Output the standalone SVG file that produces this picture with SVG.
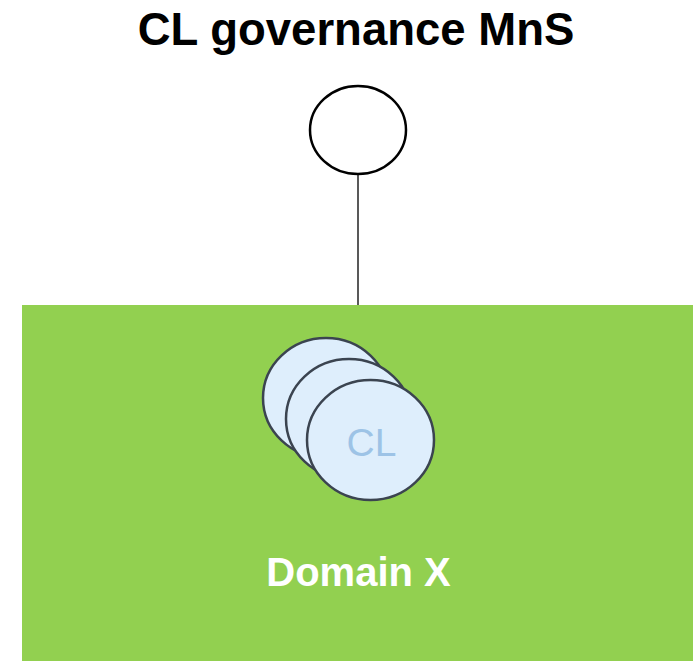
<svg xmlns="http://www.w3.org/2000/svg" width="695" height="662" viewBox="0 0 695 662">
  <style>
    .title { font-family: "Liberation Sans", Arial, sans-serif; font-weight: bold; font-size: 45.5px; fill: #000000; }
    .domain-label { font-family: "Liberation Sans", Arial, sans-serif; font-weight: bold; font-size: 40px; fill: #ffffff; }
    .cl-label { font-family: "Liberation Sans", Arial, sans-serif; font-size: 39px; fill: #9DC3E6; }
    .cl { fill: #DEEEFC; stroke: #3B4450; stroke-width: 2.5; }
    .mns { fill: #ffffff; stroke: #000000; stroke-width: 2.5; }
    .link { stroke: #595959; stroke-width: 2; fill: none; }
  </style>

  <!-- Title -->
  <text class="title" x="356" y="45" text-anchor="middle">CL governance MnS</text>

  <!-- Domain area -->
  <g id="domain-x">
    <rect x="22" y="305" width="671" height="356" fill="#92D050"/>
    <text class="domain-label" x="358.5" y="586" text-anchor="middle">Domain X</text>
  </g>

  <!-- Connectors -->
  <g id="connectors">
    <line class="link" x1="358" y1="175" x2="358" y2="305"/>
  </g>

  <!-- Governance MnS service point -->
  <g id="mns">
    <ellipse class="mns" cx="358" cy="130" rx="48" ry="44"/>
  </g>

  <!-- Stack of closed loops -->
  <g id="cl-stack">
    <ellipse class="cl" cx="326" cy="398" rx="63" ry="60"/>
    <ellipse class="cl" cx="349" cy="419" rx="63" ry="60"/>
    <ellipse class="cl" cx="370.5" cy="440" rx="63.5" ry="60"/>
    <text class="cl-label" x="371.5" y="456" text-anchor="middle">CL</text>
  </g>
</svg>
